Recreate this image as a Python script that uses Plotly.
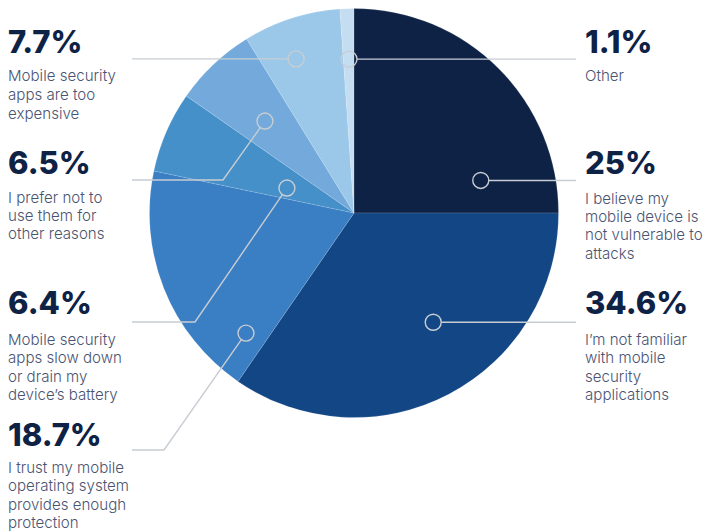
import math
import plotly.graph_objects as go

# Survey shares, listed clockwise from 12 o'clock
percent_labels = ["25%", "34.6%", "18.7%", "6.4%", "6.5%", "7.7%", "1.1%"]
shares = [25, 34.6, 18.7, 6.4, 6.5, 7.7, 1.1]
reasons = [
    ["I believe my", "mobile device is", "not vulnerable to", "attacks"],
    ["I\u2019m not familiar", "with mobile", "security", "applications"],
    ["I trust my mobile", "operating system", "provides enough", "protection"],
    ["Mobile security", "apps slow down", "or drain my", "device\u2019s battery"],
    ["I prefer not to", "use them for", "other reasons"],
    ["Mobile security", "apps are too", "expensive"],
    ["Other"],
]
slice_colors = ["#0e2246", "#124684", "#3a7ec3", "#4690c9", "#73aadb", "#9bc8e9", "#c4ddf1"]

W, H = 715, 531
CX, CY, R = 354, 213, 204.5

# Label blocks: column side, y of the percent text centre, y of first reason line
label_side = ["right", "right", "left", "left", "left", "left", "right"]
label_top = [162, 302, 434, 302, 162, 41, 41]
reason_top = [198, 339, 467, 339, 197, 76, 76]
LINE_STEP = 18.5
LEFT_X, RIGHT_X = 7, 584
LEFT_END, RIGHT_END = 132, 576

# Marker placement inside each slice: fraction across the slice's angle, fraction of radius
marker_t = [0.84, 0.434, 0.11, 0.37, 0.47, 0.40, 0.53]
marker_r = [0.64, 0.66, 0.79, 0.35, 0.626, 0.805, 0.753]
# Leader elbow (x) for angled leaders and the y level of the horizontal run
elbow_x = [None, None, 164, 195, 223, None, None]
elbow_y = [None, None, 450, 322, 180, None, None]

LEADER = "#c8cdd3"
DOT_R = 8


def px(x):
    return x / W


def py(y):
    return 1 - y / H


fig = go.Figure()
fig.add_trace(go.Pie(
    values=shares,
    labels=percent_labels,
    sort=False,
    direction="clockwise",
    rotation=0,
    marker=dict(colors=slice_colors, line=dict(color="rgba(255,255,255,0.25)", width=0.5)),
    textinfo="none",
    hoverinfo="label",
    showlegend=False,
    domain=dict(x=[px(CX - R), px(CX + R)], y=[py(CY + R), py(CY - R)]),
))

shapes = []
annotations = []
total = sum(shares)
start = 0.0
for i, v in enumerate(shares):
    span = v / total * 360
    ang = math.radians(start + marker_t[i] * span)
    start += span
    mx = CX + marker_r[i] * R * math.sin(ang)
    my = CY - marker_r[i] * R * math.cos(ang)

    # marker ring
    shapes.append(dict(type="circle", xref="paper", yref="paper",
                       x0=px(mx - DOT_R), x1=px(mx + DOT_R),
                       y0=py(my + DOT_R), y1=py(my - DOT_R),
                       line=dict(color=LEADER, width=1.4), layer="above"))

    # leader line ending at the ring edge
    if label_side[i] == "left":
        if elbow_x[i] is None:
            pts = [(LEFT_END, my), (mx - DOT_R, my)]
        else:
            ex, ey = elbow_x[i], elbow_y[i]
            dx, dy = mx - ex, my - ey
            d = math.hypot(dx, dy)
            pts = [(LEFT_END, ey), (ex, ey), (mx - dx / d * DOT_R, my - dy / d * DOT_R)]
    else:
        pts = [(mx + DOT_R, my), (RIGHT_END, my)]
    path = "M " + " L ".join(f"{px(x):.5f},{py(y):.5f}" for x, y in pts)
    shapes.append(dict(type="path", xref="paper", yref="paper", path=path,
                       line=dict(color=LEADER, width=1.4), layer="above"))

    tx = LEFT_X if label_side[i] == "left" else RIGHT_X
    annotations.append(dict(
        x=px(tx), y=py(label_top[i]), xref="paper", yref="paper",
        xanchor="left", yanchor="middle", showarrow=False, borderpad=0,
        text=percent_labels[i],
        font=dict(family="Inter", size=31, color="#0e2246", weight=800),
    ))
    for k, line in enumerate(reasons[i]):
        annotations.append(dict(
            x=px(tx), y=py(reason_top[i] + k * LINE_STEP), xref="paper", yref="paper",
            xanchor="left", yanchor="middle", showarrow=False, borderpad=0,
            text=line,
            font=dict(family="Inter", size=15.1, color="#4a5472", weight=300),
        ))

fig.update_layout(
    width=W, height=H,
    margin=dict(l=0, r=0, t=0, b=0),
    paper_bgcolor="white",
    plot_bgcolor="white",
    shapes=shapes,
    annotations=annotations,
)

fig.write_html("out.html")
